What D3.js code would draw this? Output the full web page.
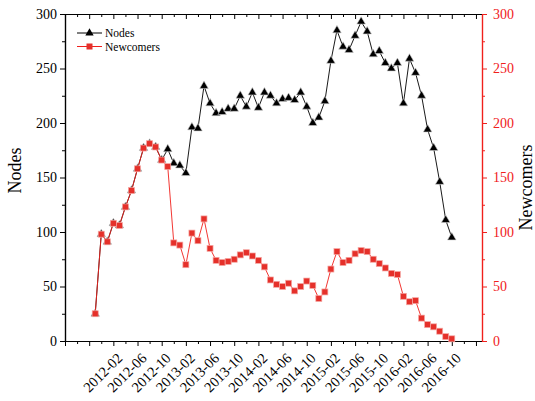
<!DOCTYPE html>
<html>
<head>
<meta charset="utf-8">
<script src="https://cdn.jsdelivr.net/npm/d3@7"></script>
<style>
  body { margin: 0; background: #fff; }
</style>
</head>
<body>
<div id="chart"></div>
<script>
// data (monthly counts)
const months = [
  "2011-11", "2011-12",
  "2012-01", "2012-02", "2012-03", "2012-04", "2012-05", "2012-06",
  "2012-07", "2012-08", "2012-09", "2012-10", "2012-11", "2012-12",
  "2013-01", "2013-02", "2013-03", "2013-04", "2013-05", "2013-06",
  "2013-07", "2013-08", "2013-09", "2013-10", "2013-11", "2013-12",
  "2014-01", "2014-02", "2014-03", "2014-04", "2014-05", "2014-06",
  "2014-07", "2014-08", "2014-09", "2014-10", "2014-11", "2014-12",
  "2015-01", "2015-02", "2015-03", "2015-04", "2015-05", "2015-06",
  "2015-07", "2015-08", "2015-09", "2015-10", "2015-11", "2015-12",
  "2016-01", "2016-02", "2016-03", "2016-04", "2016-05", "2016-06",
  "2016-07", "2016-08", "2016-09", "2016-10"
];
const nodes = [
  25, 98,
  91, 108, 106, 123, 138, 158, 177, 181, 178, 166, 176, 163,
  161, 154, 196, 195, 234, 218, 209, 210, 213, 213, 225, 215,
  228, 214, 228, 225, 218, 222, 223, 221, 228, 215, 200, 205,
  220, 257, 285, 270, 267, 280, 293, 284, 263, 266, 255, 250,
  255, 218, 259, 246, 225, 194, 177, 146, 111, 95
];
const newcomers = [
  25, 98,
  91, 108, 106, 123, 138, 158, 177, 181, 178, 166, 160, 90,
  88, 70, 99, 92, 112, 85, 74, 72, 73, 75, 79, 81,
  78, 74, 68, 56, 52, 50, 53, 46, 50, 55, 51, 39,
  45, 66, 82, 72, 74, 80, 83, 82, 75, 71, 67, 62,
  61, 41, 36, 37, 21, 15, 13, 9, 4, 2
];
const xTickLabels = [
  "2012-02", "2012-06", "2012-10", "2013-02", "2013-06", "2013-10",
  "2014-02", "2014-06", "2014-10", "2015-02", "2015-06", "2015-10",
  "2016-02", "2016-06", "2016-10"
];
const xStart = "2011-06";
const xEnd = "2017-03";
const yTicks = [0, 50, 100, 150, 200, 250, 300];

const RED = "#f0201c";
const FONT = "'Liberation Serif','Times New Roman',serif";

// set the dimensions and margins of the graph
const margin = { top: 14, right: 53, bottom: 60, left: 65 };
const width = 535 - margin.left - margin.right;
const height = 401 - margin.top - margin.bottom;

const svg = d3
  .select("#chart")
  .append("svg")
  .attr("width", width + margin.left + margin.right)
  .attr("height", height + margin.top + margin.bottom)
  .style("font-family", FONT)
  .append("g")
  .attr("transform", `translate(${margin.left},${margin.top})`);

// month string -> month number
const monthNo = (s) => {
  const [y, m] = s.split("-").map(Number);
  return y * 12 + (m - 1);
};

const x = d3.scaleLinear().domain([monthNo(xStart), monthNo(xEnd)]).range([0, width]);
const y = d3.scaleLinear().domain([0, 300]).range([height, 0]);

const allTicks = d3.range(monthNo(xStart), monthNo(xEnd), 2);
const majorTicks = allTicks.filter((t) => (t - monthNo(xStart)) % 4 === 0);
const minorTicks = allTicks.filter((t) => (t - monthNo(xStart)) % 4 !== 0);

// X axis bottom (ticks outside) and top (ticks inside)
const styleAxis = (g, color) => {
  g.select(".domain").attr("stroke", color).attr("stroke-width", 1.2);
  g.selectAll(".tick line").attr("stroke", color).attr("stroke-width", 1);
};
svg.append("g")
  .attr("transform", `translate(0,${height})`)
  .call(d3.axisBottom(x).tickValues(majorTicks).tickSize(5).tickFormat("").tickSizeOuter(0))
  .call((g) => styleAxis(g, "#000"));
svg.append("g")
  .attr("transform", `translate(0,${height})`)
  .call(d3.axisBottom(x).tickValues(minorTicks).tickSize(3).tickFormat("").tickSizeOuter(0))
  .call((g) => styleAxis(g, "#000"));
svg.append("g")
  .call(d3.axisTop(x).tickValues(majorTicks).tickSize(-5).tickFormat("").tickSizeOuter(0))
  .call((g) => styleAxis(g, "#000"));
svg.append("g")
  .call(d3.axisTop(x).tickValues(minorTicks).tickSize(-3).tickFormat("").tickSizeOuter(0))
  .call((g) => styleAxis(g, "#000"));

// rotated month labels
svg.append("g")
  .selectAll("text")
  .data(xTickLabels)
  .enter()
  .append("text")
  .attr("transform", (d) => `translate(${x(monthNo(d)) + 10},${height + 18})rotate(-45)`)
  .attr("text-anchor", "end")
  .style("font-size", "14.5px")
  .attr("fill", "#000")
  .text((d) => d);

// left Y axis
const yMinor = d3.range(25, 300, 50);
svg.append("g")
  .call(d3.axisLeft(y).tickValues(yTicks).tickSize(5).tickSizeOuter(0).tickPadding(3))
  .call((g) => styleAxis(g, "#000"))
  .call((g) => g.selectAll("text").style("font-size", "14px").style("font-family", FONT).attr("fill", "#000"));
svg.append("g")
  .call(d3.axisLeft(y).tickValues(yMinor).tickSize(3).tickFormat("").tickSizeOuter(0))
  .call((g) => styleAxis(g, "#000"));

// right Y axis (red)
svg.append("g")
  .attr("transform", `translate(${width},0)`)
  .call(d3.axisRight(y).tickValues(yTicks).tickSize(5).tickSizeOuter(0).tickPadding(6))
  .call((g) => styleAxis(g, RED))
  .call((g) => g.selectAll("text").style("font-size", "14px").style("font-family", FONT).attr("fill", RED));
svg.append("g")
  .attr("transform", `translate(${width},0)`)
  .call(d3.axisRight(y).tickValues(yMinor).tickSize(3).tickFormat("").tickSizeOuter(0))
  .call((g) => styleAxis(g, RED));

// axis titles
svg.append("text")
  .attr("transform", `translate(${-44},${height / 2 - 7})rotate(-90)`)
  .attr("text-anchor", "middle")
  .style("font-size", "18px")
  .text("Nodes");
svg.append("text")
  .attr("transform", `translate(${width + 50},${height / 2 + 10})rotate(-90)`)
  .attr("text-anchor", "middle")
  .style("font-size", "18px")
  .text("Newcomers");

// lines
const line = (vals) =>
  d3.line()
    .x((d, i) => x(monthNo(months[i])))
    .y((d) => y(d))(vals);

svg.append("path")
  .attr("d", line(nodes))
  .attr("fill", "none")
  .attr("stroke", "#000")
  .attr("stroke-width", 0.9);

svg.append("g")
  .selectAll("path")
  .data(nodes)
  .enter()
  .append("path")
  .attr("d", d3.symbol(d3.symbolTriangle, 32))
  .attr("transform", (d, i) => `translate(${x(monthNo(months[i]))},${y(d)})`)
  .attr("fill", "#000")
  .attr("stroke", "#ccc")
  .attr("stroke-width", 0.6);

svg.append("path")
  .attr("d", line(newcomers))
  .attr("fill", "none")
  .attr("stroke", RED)
  .attr("stroke-width", 0.9);

svg.append("g")
  .selectAll("rect")
  .data(newcomers)
  .enter()
  .append("rect")
  .attr("x", (d, i) => x(monthNo(months[i])) - 3)
  .attr("y", (d) => y(d) - 3)
  .attr("width", 6)
  .attr("height", 6)
  .attr("fill", "#e5302a")
  .attr("stroke", "#f5a8a4")
  .attr("stroke-width", 0.7);

// legend
const legend = svg.append("g").attr("transform", "translate(12,19)");
const legendItems = [
  { name: "Nodes", color: "#000", shape: "tri" },
  { name: "Newcomers", color: RED, shape: "sq" }
];
legendItems.forEach((item, i) => {
  const row = legend.append("g").attr("transform", `translate(0,${i * 13.5})`);
  row.append("line")
    .attr("x1", 0).attr("x2", 25).attr("y1", 0).attr("y2", 0)
    .attr("stroke", item.color).attr("stroke-width", 1);
  if (item.shape === "tri") {
    row.append("path")
      .attr("d", d3.symbol(d3.symbolTriangle, 30))
      .attr("transform", "translate(12.5,0)")
      .attr("fill", "#000");
  } else {
    row.append("rect")
      .attr("x", 9.5).attr("y", -3).attr("width", 6).attr("height", 6)
      .attr("fill", "#e5302a");
  }
  row.append("text")
    .attr("x", 28)
    .attr("y", 4)
    .style("font-size", "11.5px")
    .text(item.name);
});
</script>
</body>
</html>
